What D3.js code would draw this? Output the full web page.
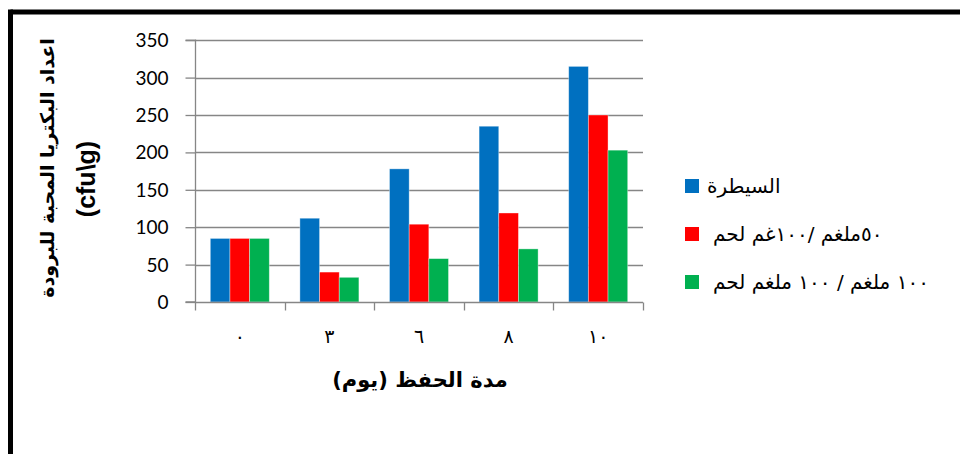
<!DOCTYPE html>
<html>
<head>
<meta charset="utf-8">
<script src="https://cdn.jsdelivr.net/npm/d3@7"></script>
<style>
  html, body { margin: 0; padding: 0; background: #fff; }
  svg { display: block; }
</style>
</head>
<body>
<svg id="chart" width="960" height="454"></svg>
<script>
// Storage days (Arabic-Indic numerals) and bacterial counts per treatment
const categories = ["٠", "٣", "٦", "٨", "١٠"];
const seriesNames = ["السيطرة", "٥٠ملغم /١٠٠غم لحم", "١٠٠ ملغم / ١٠٠ ملغم لحم"];
const controlValues = [85, 112, 178, 235, 315];
const dose50Values = [85, 40, 104, 119, 250];
const dose100Values = [85, 33, 58, 71, 203];
const yTicks = [0, 50, 100, 150, 200, 250, 300, 350];
const colors = ["#0070C0", "#FF0000", "#00B050"];

const seriesValues = [controlValues, dose50Values, dose100Values];
const rows = categories.map((c, i) => ({
  cat: c,
  vals: seriesValues.map((s, k) => ({ key: k, value: s[i] }))
}));

const svg = d3.select("#chart");

// Outer frame (top and left edges)
svg.append("line").attr("x1", 10.5).attr("x2", 960).attr("y1", 12).attr("y2", 12)
  .attr("stroke", "#000").attr("stroke-width", 5);
svg.append("line").attr("x1", 10.5).attr("x2", 10.5).attr("y1", 9.5).attr("y2", 454)
  .attr("stroke", "#000").attr("stroke-width", 5);

const plotLeft = 195, plotRight = 643, plotTop = 40.2, plotBottom = 302;

const y = d3.scaleLinear().domain([0, 350]).range([plotBottom, plotTop]);
const x = d3.scaleBand().domain(categories).range([plotLeft, plotRight]).paddingInner(0).paddingOuter(0);
const xs = d3.scaleBand().domain(d3.range(seriesNames.length))
  .range([15.3, x.bandwidth() - 15.3]).paddingInner(0);

const gridColor = "#868686";

// Horizontal gridlines
svg.append("g").selectAll("line").data(yTicks.filter(t => t > 0)).join("line")
  .attr("x1", plotLeft).attr("x2", plotRight)
  .attr("y1", d => Math.round(y(d)) + 0.5).attr("y2", d => Math.round(y(d)) + 0.5)
  .attr("stroke", gridColor).attr("stroke-width", 1.3);

// Bars
const groups = svg.append("g").selectAll("g").data(rows).join("g")
  .attr("transform", d => `translate(${x(d.cat)},0)`);
groups.selectAll("rect").data(d => d.vals).join("rect")
  .attr("x", d => xs(d.key))
  .attr("width", xs.bandwidth())
  .attr("y", d => y(d.value))
  .attr("height", d => y(0) - y(d.value))
  .attr("fill", d => colors[d.key])
  .attr("stroke", "rgba(255,255,255,0.45)")
  .attr("stroke-width", 0.8);

// Y axis
const yAxis = svg.append("g").attr("transform", `translate(${plotLeft + 0.5},0)`)
  .call(d3.axisLeft(y).tickValues(yTicks).tickSize(10).tickPadding(17));
yAxis.selectAll("path, line").attr("stroke", gridColor).attr("stroke-width", 1.3);
yAxis.select(".domain").attr("d", `M-10,${y(350)}H0V${y(0)}H-10`);
yAxis.selectAll("text").attr("font-family", "Lato, 'Open Sans', sans-serif")
  .attr("font-size", 19).attr("fill", "#000").attr("dy", "0.34em");

// X axis: baseline, boundary ticks and day labels
const xAxis = svg.append("g").attr("transform", `translate(0,${Math.round(plotBottom) + 0.5})`)
  .call(d3.axisBottom(x).tickSize(0).tickPadding(27));
xAxis.select(".domain").attr("stroke", gridColor).attr("stroke-width", 1.3)
  .attr("d", `M${plotLeft},0H${plotRight}`);
xAxis.selectAll("text").attr("font-family", "'DejaVu Sans', sans-serif")
  .attr("font-size", 19).attr("fill", "#000");
const boundaries = categories.map(c => x(c)).concat([x(categories[categories.length - 1]) + x.bandwidth()]);
xAxis.selectAll("line.bound").data(boundaries).join("line").attr("class", "bound")
  .attr("x1", d => Math.round(d) + 0.5).attr("x2", d => Math.round(d) + 0.5)
  .attr("y1", 0).attr("y2", 8)
  .attr("stroke", gridColor).attr("stroke-width", 1.3);

// X axis title
svg.append("text")
  .attr("x", 420).attr("y", 387)
  .attr("text-anchor", "middle").attr("direction", "rtl")
  .attr("font-family", "'DejaVu Sans', sans-serif").attr("font-weight", "bold")
  .attr("font-size", 21).attr("fill", "#000")
  .text("مدة الحفظ (يوم)");

// Y axis title (two lines, rotated)
svg.append("text")
  .attr("transform", "translate(54,168) rotate(-90)")
  .attr("text-anchor", "middle").attr("direction", "rtl")
  .attr("font-family", "'DejaVu Sans', sans-serif").attr("font-weight", "bold")
  .attr("font-size", 19).attr("fill", "#000")
  .text("اعداد البكتريا المحبة للبرودة");
svg.append("text")
  .attr("transform", "translate(95,179) rotate(-90)")
  .attr("text-anchor", "middle")
  .attr("font-family", "'Liberation Sans', Arial, sans-serif").attr("font-weight", 700)
  .attr("font-size", 25).attr("fill", "#000")
  .text("(cfu\\g)");

// Legend
const legendY = [186, 234, 282];
const legendTextX = [707, 713, 713];
const legend = svg.append("g").selectAll("g").data(seriesNames).join("g");
legend.append("rect")
  .attr("x", 685).attr("y", (d, i) => legendY[i] - 7)
  .attr("width", 14).attr("height", 14)
  .attr("fill", (d, i) => colors[i]);
legend.append("text")
  .attr("x", (d, i) => legendTextX[i]).attr("y", (d, i) => legendY[i])
  .attr("dy", "0.35em")
  .attr("font-family", "'DejaVu Sans', sans-serif")
  .attr("font-size", 20).attr("fill", "#000")
  .text(d => d);
</script>
</body>
</html>
